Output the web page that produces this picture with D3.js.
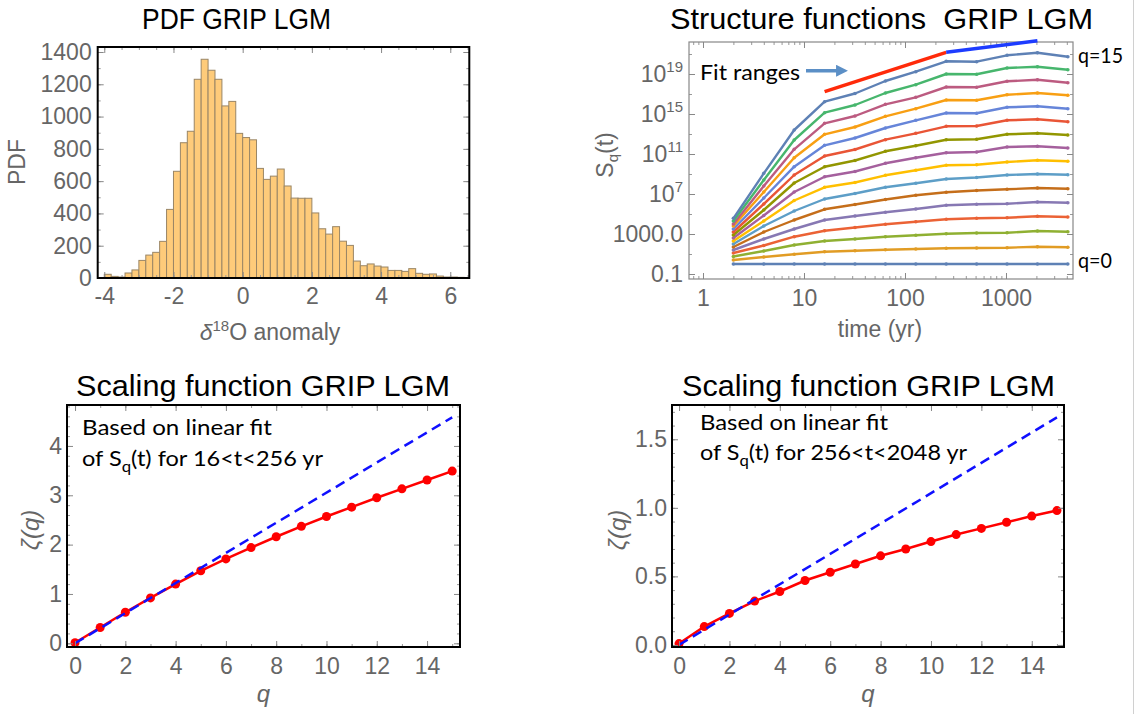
<!DOCTYPE html>
<html lang="en">
<head>
<meta charset="UTF-8">
<title>GRIP LGM</title>
<script src="https://d3js.org/d3.v7.min.js"></script>
<style>
  body { margin: 0; background: #fff; }
  svg { display: block; }
  text { white-space: pre; }
</style>
</head>
<body>
<script>
// ---- histogram: delta18O anomaly, 0.2 wide bins from -4 ----
const binStart = -4.0;
const binWidth = 0.2;
const pdfCounts = [23, 10, 6, 31, 50, 109, 142, 159, 227, 425, 661, 838, 909, 1231, 1355, 1287,
  1231, 1066, 1094, 896, 870, 856, 679, 611, 631, 675, 570, 495, 494, 494, 403, 305, 272, 318,
  228, 202, 105, 76, 87, 74, 68, 47, 47, 41, 58, 29, 23, 25, 12, 6, 6, 4];
const pdfXTicks = [-4, -2, 0, 2, 4, 6];
const pdfYTicks = [0, 200, 400, 600, 800, 1000, 1200, 1400];

// ---- structure functions: log10 S_q(t), one row per q = 0..15 ----
const times = [2, 4, 8, 16, 32, 64, 128, 256, 512, 1024, 2048, 4096];
const logSq = [
  [0, 0, 0, 0, 0, 0, 0, 0, 0, 0, 0, 0],
  [0.4, 0.7, 0.97, 1.23, 1.33, 1.43, 1.5, 1.57, 1.6, 1.63, 1.73, 1.67],
  [0.75, 1.3, 1.9, 2.3, 2.5, 2.73, 2.87, 3.03, 3.1, 3.13, 3.3, 3.23],
  [1.1, 1.85, 2.73, 3.33, 3.65, 3.97, 4.23, 4.47, 4.57, 4.63, 4.77, 4.7],
  [1.4, 2.5, 3.5, 4.4, 4.8, 5.17, 5.5, 5.87, 5.97, 6.03, 6.2, 6.13],
  [1.7, 3.2, 4.4, 5.47, 5.95, 6.45, 6.87, 7.17, 7.35, 7.47, 7.6, 7.52],
  [2.0, 3.8, 5.3, 6.5, 7.05, 7.67, 8.08, 8.5, 8.65, 8.9, 9.0, 8.92],
  [2.3, 4.3, 6.35, 7.67, 8.15, 8.87, 9.37, 9.87, 9.93, 10.2, 10.37, 10.27],
  [2.6, 4.85, 7.2, 8.73, 9.25, 10.07, 10.63, 11.13, 11.2, 11.7, 11.77, 11.6],
  [2.9, 5.4, 8.1, 9.73, 10.35, 11.27, 11.83, 12.43, 12.47, 12.97, 13.07, 12.9],
  [3.2, 6.0, 8.9, 10.8, 11.45, 12.43, 13.07, 13.77, 13.8, 14.37, 14.47, 14.23],
  [3.5, 6.6, 9.73, 11.87, 12.6, 13.6, 14.37, 15.1, 15.07, 15.67, 15.77, 15.53],
  [3.8, 7.2, 10.63, 12.97, 13.7, 14.77, 15.53, 16.4, 16.37, 16.93, 17.1, 16.87],
  [4.0, 7.8, 11.47, 14.07, 14.8, 15.97, 16.67, 17.7, 17.67, 18.27, 18.43, 18.13],
  [4.3, 8.4, 12.4, 15.13, 15.9, 17.1, 17.93, 19.0, 18.97, 19.6, 19.73, 19.43],
  [4.57, 9.07, 13.4, 16.23, 17.05, 18.3, 19.23, 20.27, 20.23, 20.87, 21.13, 20.73]
];
const sqColors = ["#5E81B5", "#E19C24", "#8FB032", "#EB6235", "#8778B3", "#C56E1A", "#5D9EC7", "#FFBF00",
  "#A5609D", "#929600", "#E95536", "#6685D9", "#F89F13", "#BC5B80", "#47B66D", "#5E81B5"];
const sfXTicks = [1, 10, 100, 1000];
const sfYTicks = [0.1, 1e3, 1e7, 1e11, 1e15, 1e19];
// fit range segments (t, log10 S)
const fitRedT = [16, 256];
const fitRedLog = [17.23, 21.17];
const fitBlueT = [256, 2048];
const fitBlueLog = [21.17, 22.33];

// ---- scaling functions zeta(q) ----
const qVals = [0, 1, 2, 3, 4, 5, 6, 7, 8, 9, 10, 11, 12, 13, 14, 15];
const zetaShort = [0.01, 0.32, 0.63, 0.92, 1.2, 1.47, 1.71, 1.94, 2.16, 2.37, 2.57, 2.76, 2.95, 3.13, 3.31, 3.49];
const zetaLong = [0.01, 0.134, 0.23, 0.32, 0.39, 0.47, 0.53, 0.59, 0.65, 0.70, 0.754, 0.805, 0.85, 0.895, 0.94, 0.98];
const dashQ = [0, 15];
const dashShort = [0, 4.58];
const dashLong = [0, 1.66];
const qTicks = [0, 2, 4, 6, 8, 10, 12, 14];

const LAB = "'Liberation Sans', Arial, sans-serif";
const NOTE = "Lato, 'Open Sans', sans-serif";
const GREY = "#666";

const svg = d3.select("body").append("svg").attr("width", 1135).attr("height", 714);

// frame with Mathematica-like inward ticks on all four sides
function drawFrame(g, x, y, o) {
  const xr = x.range(), yr = y.range();
  const sides = [
    { gen: d3.axisBottom, sc: x, tr: `translate(0,${yr[0]})`, major: o.xMajor, minor: o.xMinor, label: true, fmt: o.xFmt, pad: o.xPad },
    { gen: d3.axisTop, sc: x, tr: `translate(0,${yr[1]})`, major: o.xMajor, minor: o.xMinor },
    { gen: d3.axisLeft, sc: y, tr: `translate(${xr[0]},0)`, major: o.yMajor, minor: o.yMinor, label: true, fmt: o.yFmt, pad: o.yPad },
    { gen: d3.axisRight, sc: y, tr: `translate(${xr[1]},0)`, major: o.yMajor, minor: o.yMinor }
  ];
  sides.forEach(s => {
    const mn = g.append("g").attr("transform", s.tr)
      .call(s.gen(s.sc).tickValues(s.minor).tickSize(-3).tickFormat(""));
    mn.select(".domain").remove();
    mn.selectAll("line").attr("stroke", "#999");
    const ax = g.append("g").attr("transform", s.tr)
      .call(s.gen(s.sc).tickValues(s.major).tickSize(-6).tickPadding(s.pad || 0)
        .tickFormat(s.label ? (s.fmt || (d => d)) : ""));
    ax.select(".domain").remove();
    ax.selectAll("line").attr("stroke", "#888");
    ax.attr("font-family", LAB).attr("font-size", 23);
    ax.selectAll("text").attr("fill", GREY);
    s.axis = ax;
  });
  g.append("rect")
    .attr("x", xr[0]).attr("y", yr[1])
    .attr("width", xr[1] - xr[0]).attr("height", yr[0] - yr[1])
    .attr("fill", "none").attr("stroke", o.frameColor).attr("stroke-width", o.frameWidth);
  return sides;
}

function title(txt, x0, x1, y, size) {
  svg.append("text").attr("x", x0).attr("y", y)
    .attr("font-family", LAB).attr("font-size", size).attr("fill", "#000")
    .attr("textLength", x1 - x0).attr("lengthAdjust", "spacingAndGlyphs")
    .text(txt);
}

// ================= PDF histogram =================
const gH = svg.append("g");
const xH = d3.scaleLinear().domain([-4.19, 6.55]).range([97.7, 469.3]);
const yH = d3.scaleLinear().domain([0, 1431]).range([278, 47]);
gH.selectAll("rect.bar").data(pdfCounts).enter().append("rect")
  .attr("class", "bar")
  .attr("x", (d, i) => xH(binStart + i * binWidth))
  .attr("width", xH(binWidth) - xH(0))
  .attr("y", d => yH(d))
  .attr("height", d => yH(0) - yH(d))
  .attr("fill", "#fecb7a")
  .attr("stroke", "#9a8666")
  .attr("stroke-width", 1);
drawFrame(gH, xH, yH, {
  xMajor: pdfXTicks, xMinor: d3.range(-4, 6.6, 0.5), xPad: 10,
  yMajor: pdfYTicks, yMinor: d3.range(0, 1431, 100), yPad: 6,
  frameColor: "#000", frameWidth: 2
});
title("PDF GRIP LGM", 142, 331, 29, 29);
svg.append("text").attr("transform", "translate(25,162) rotate(-90)")
  .attr("text-anchor", "middle").attr("font-family", LAB).attr("font-size", 23).attr("fill", GREY)
  .text("PDF");
const hx = svg.append("text").attr("x", 270).attr("y", 340).attr("text-anchor", "middle")
  .attr("font-family", LAB).attr("font-size", 23).attr("fill", GREY);
hx.append("tspan").attr("font-style", "italic").text("δ");
hx.append("tspan").attr("font-size", 15).attr("dy", -9).text("18");
hx.append("tspan").attr("dy", 9).text("O anomaly");

// ================= Structure functions =================
const gS = svg.append("g");
const xS = d3.scaleLog().domain([0.727, 4607]).range([689, 1073]);
const yS = d3.scaleLog().domain([Math.pow(10, -1.5), Math.pow(10, 22.2)]).range([279, 42]);
const lineS = d3.line().x(d => xS(d[0])).y(d => yS(Math.pow(10, d[1])));
logSq.forEach((row, q) => {
  const pts = times.map((t, i) => [t, row[i]]);
  gS.append("path").datum(pts).attr("d", lineS)
    .attr("fill", "none").attr("stroke", sqColors[q]).attr("stroke-width", 2.4)
    .attr("stroke-linejoin", "round");
  gS.selectAll(null).data(pts).enter().append("circle")
    .attr("cx", d => xS(d[0])).attr("cy", d => yS(Math.pow(10, d[1])))
    .attr("r", 1.8).attr("fill", sqColors[q]);
});
const sfMinorX = [];
[0.1, 1, 10, 100, 1000].forEach(dec => d3.range(1, 10).forEach(k => {
  const v = dec * k;
  if (v > 0.727 && v < 4607) sfMinorX.push(v);
}));
const sfMinorY = d3.range(-1, 23, 2).map(e => Math.pow(10, e));
const sides = drawFrame(gS, xS, yS, {
  xMajor: sfXTicks, xMinor: sfMinorX, xPad: 11,
  yMajor: sfYTicks, yMinor: sfMinorY, yPad: 6,
  xFmt: d => d, yFmt: d => d,
  frameColor: "#888", frameWidth: 1.2
});
// log tick labels with superscripts
sides[2].axis.selectAll(".tick text").each(function (d) {
  const t = d3.select(this);
  if (d === 0.1) { t.text("0.1"); return; }
  if (d === 1e3) { t.text("1000.0"); return; }
  t.text("");
  t.append("tspan").text("10");
  t.append("tspan").attr("font-size", 15).attr("dy", -10).text(Math.round(Math.log10(d)));
});
// fit-range segments
gS.append("path").datum(fitRedT.map((t, i) => [t, fitRedLog[i]])).attr("d", lineS)
  .attr("stroke", "#ff2a0a").attr("stroke-width", 3.5).attr("fill", "none");
gS.append("path").datum(fitBlueT.map((t, i) => [t, fitBlueLog[i]])).attr("d", lineS)
  .attr("stroke", "#1d3cff").attr("stroke-width", 3.5).attr("fill", "none");
svg.append("defs").append("marker").attr("id", "arr")
  .attr("viewBox", "0 0 10 10").attr("refX", 5).attr("refY", 5)
  .attr("markerWidth", 3.4).attr("markerHeight", 3.4).attr("orient", "auto")
  .append("path").attr("d", "M0,0 L10,5 L0,10 z").attr("fill", "#5b8fc6");
svg.append("line").attr("x1", 806).attr("y1", 70.7).attr("x2", 842).attr("y2", 70.7)
  .attr("stroke", "#5b8fc6").attr("stroke-width", 3.5).attr("marker-end", "url(#arr)");
svg.append("text").attr("x", 700).attr("y", 80).attr("font-family", NOTE).attr("font-size", 22)
  .attr("textLength", 100).attr("lengthAdjust", "spacingAndGlyphs").text("Fit ranges");
svg.append("text").attr("x", 1078).attr("y", 63).attr("font-family", NOTE).attr("font-size", 22)
  .attr("textLength", 45).attr("lengthAdjust", "spacingAndGlyphs").text("q=15");
svg.append("text").attr("x", 1078).attr("y", 268).attr("font-family", NOTE).attr("font-size", 22)
  .attr("textLength", 34).attr("lengthAdjust", "spacingAndGlyphs").text("q=0");
title("Structure functions  GRIP LGM", 670, 1093, 29, 29);
svg.append("text").attr("x", 880).attr("y", 337).attr("text-anchor", "middle")
  .attr("font-family", LAB).attr("font-size", 23).attr("fill", GREY).text("time (yr)");
const sy = svg.append("text").attr("transform", "translate(613,155) rotate(-90)")
  .attr("text-anchor", "middle").attr("font-family", LAB).attr("font-size", 23).attr("fill", GREY);
sy.append("tspan").text("S");
sy.append("tspan").attr("font-size", 15).attr("dy", 5).text("q");
sy.append("tspan").attr("dy", -5).text("(t)");

// ================= Scaling functions =================
function scalingPanel(x0, x1, xDom, yDom, zeta, dash, yTicks, yMinor, yFmt, notes, noteX, noteY, titleX, zetaX) {
  const g = svg.append("g");
  const x = d3.scaleLinear().domain(xDom).range([x0, x1]);
  const y = d3.scaleLinear().domain(yDom).range([647, 405]);
  const line = d3.line().x(d => x(d[0])).y(d => y(d[1]));
  g.append("path").datum(qVals.map((q, i) => [q, zeta[i]])).attr("d", line)
    .attr("fill", "none").attr("stroke", "#ff0000").attr("stroke-width", 2.5);
  g.selectAll(null).data(qVals.map((q, i) => [q, zeta[i]])).enter().append("circle")
    .attr("cx", d => x(d[0])).attr("cy", d => y(d[1])).attr("r", 4.5).attr("fill", "#ff0000");
  g.append("path").datum(dashQ.map((q, i) => [q, dash[i]])).attr("d", line)
    .attr("fill", "none").attr("stroke", "#1010ff").attr("stroke-width", 2.5)
    .attr("stroke-dasharray", "10,6");
  drawFrame(g, x, y, {
    xMajor: qTicks, xMinor: d3.range(0, 16, 1), xPad: 11,
    yMajor: yTicks, yMinor: yMinor, yPad: 5, yFmt: yFmt,
    frameColor: "#000", frameWidth: 2
  });
  title("Scaling function GRIP LGM", titleX[0], titleX[1], 396, 30);
  const cx = (x0 + x1) / 2;
  svg.append("text").attr("x", cx - 0).attr("y", 702).attr("text-anchor", "middle")
    .attr("font-family", LAB).attr("font-size", 24).attr("font-style", "italic").attr("fill", GREY)
    .text("q");
  svg.append("text").attr("transform", `translate(${zetaX},530) rotate(-90)`)
    .attr("text-anchor", "middle").attr("font-family", LAB).attr("font-size", 24)
    .attr("font-style", "italic").attr("fill", GREY).text("ζ(q)");
  svg.append("text").attr("x", noteX).attr("y", noteY[0]).attr("font-family", NOTE).attr("font-size", 21)
    .attr("textLength", notes[0]).attr("lengthAdjust", "spacingAndGlyphs").text("Based on linear fit");
  const n2 = svg.append("text").attr("x", noteX).attr("y", noteY[1]).attr("font-family", NOTE)
    .attr("font-size", 21);
  n2.append("tspan").text("of S");
  n2.append("tspan").attr("font-size", 15).attr("dy", 6).text("q");
  n2.append("tspan").attr("dy", -6).text(notes[2]);
  n2.attr("textLength", notes[1]).attr("lengthAdjust", "spacingAndGlyphs");
}

scalingPanel(67, 460, [-0.32, 15.31], [-0.075, 4.83], zetaShort, dashShort,
  [0, 1, 2, 3, 4], d3.range(0, 4.9, 0.2), d => d,
  [190, 241, "(t) for 16<t<256 yr"], 82, [435, 466], [76, 450], 39);
scalingPanel(672, 1064, [-0.28, 15.28], [-0.015, 1.75], zetaLong, dashLong,
  [0, 0.5, 1.0, 1.5], d3.range(0, 1.75, 0.1), d => d.toFixed(1),
  [188, 267, "(t) for 256<t<2048 yr"], 700, [430, 460], [682, 1055], 626);

// thin border line at the right edge of the picture
svg.append("line").attr("x1", 1133.5).attr("x2", 1133.5).attr("y1", 0).attr("y2", 714)
  .attr("stroke", "#d0d0d0").attr("stroke-width", 1);
</script>
</body>
</html>
